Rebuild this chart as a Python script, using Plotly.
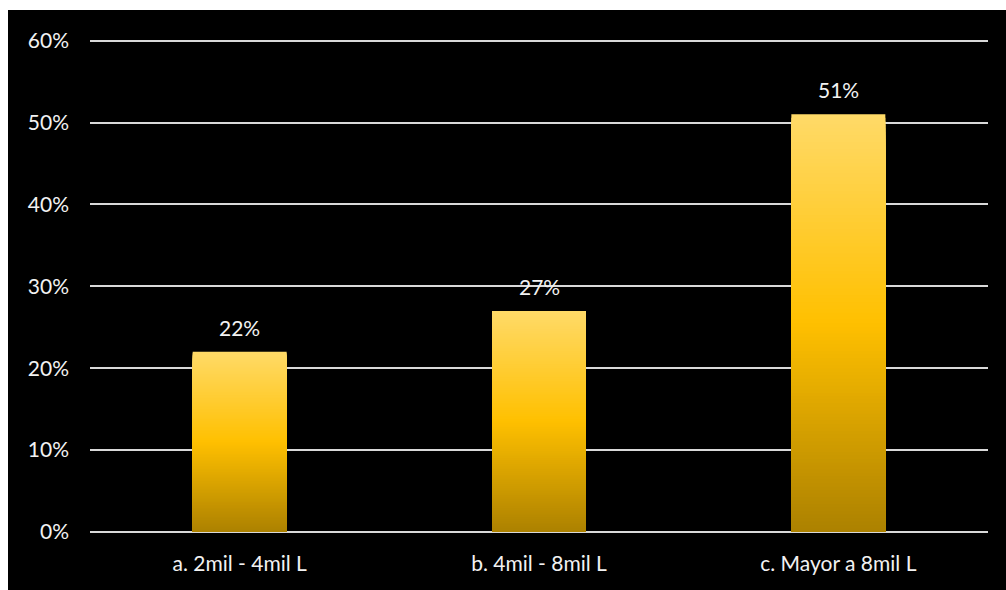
import plotly.graph_objects as go

categories = ["a. 2mil - 4mil L", "b. 4mil - 8mil L", "c. Mayor a 8mil L"]
values = [0.22, 0.27, 0.51]
y_ticks = [0, 0.1, 0.2, 0.3, 0.4, 0.5, 0.6]
y_tick_labels = ["0%", "10%", "20%", "30%", "40%", "50%", "60%"]

# vertical gradient stops (position from bottom of bar, rgb)
grad_stops = [(0.0, (172, 129, 0)), (0.5, (255, 192, 0)), (1.0, (255, 218, 104))]


def grad_color(t):
    for (p0, c0), (p1, c1) in zip(grad_stops[:-1], grad_stops[1:]):
        if p0 <= t <= p1:
            f = (t - p0) / (p1 - p0)
            return "rgb(%d,%d,%d)" % tuple(round(a + (b - a) * f) for a, b in zip(c0, c1))
    return "rgb(%d,%d,%d)" % grad_stops[-1][1]


W, H = 1006, 590
ML, MR, MT, MB = 90, 18, 39, 58
pw, ph = W - ML - MR, H - MT - MB
FONT = "Lato, Open Sans, sans-serif"
FS = 21
TXT = "#F2F2F2"

fig = go.Figure()

# overlaid bars of decreasing height give each bar a top-to-bottom gradient
N = 120
for k in range(N):
    frac = 1 - k / N
    fig.add_trace(go.Bar(
        x=categories,
        y=[v * frac for v in values],
        marker=dict(color=grad_color(frac - 0.5 / N), line=dict(width=0)),
        hoverinfo="skip",
        showlegend=False,
    ))

for c, v in zip(categories, values):
    fig.add_annotation(
        x=c, y=v, text=f"{round(v * 100)}%", showarrow=False,
        yanchor="bottom", yshift=10,
        font=dict(family=FONT, size=FS, color=TXT),
    )

# black panel behind the chart (white strip on the top and left edges)
fig.add_shape(
    type="rect", xref="paper", yref="paper", layer="below",
    x0=(8 - ML) / pw, x1=(W - ML) / pw,
    y0=-MB / ph, y1=(H - MB - 10) / ph,
    fillcolor="black", line=dict(width=0),
)

fig.update_layout(
    width=W, height=H,
    margin=dict(l=ML, r=MR, t=MT, b=MB),
    paper_bgcolor="white",
    plot_bgcolor="black",
    barmode="overlay",
    bargap=0.686,
    font=dict(family=FONT, size=FS, color=TXT),
    xaxis=dict(showgrid=False, ticks="", showline=False, zeroline=False,
               ticklabelstandoff=17, tickfont=dict(family=FONT, size=FS, color=TXT)),
    yaxis=dict(range=[0, 0.602], tickvals=y_ticks, ticktext=y_tick_labels,
               showgrid=True, gridcolor="#D9D9D9", gridwidth=2,
               zeroline=True, zerolinecolor="#D9D9D9", zerolinewidth=2,
               showline=False, ticks="", ticklabelstandoff=20,
               tickfont=dict(family=FONT, size=FS, color=TXT)),
)

fig.write_html("out.html")
